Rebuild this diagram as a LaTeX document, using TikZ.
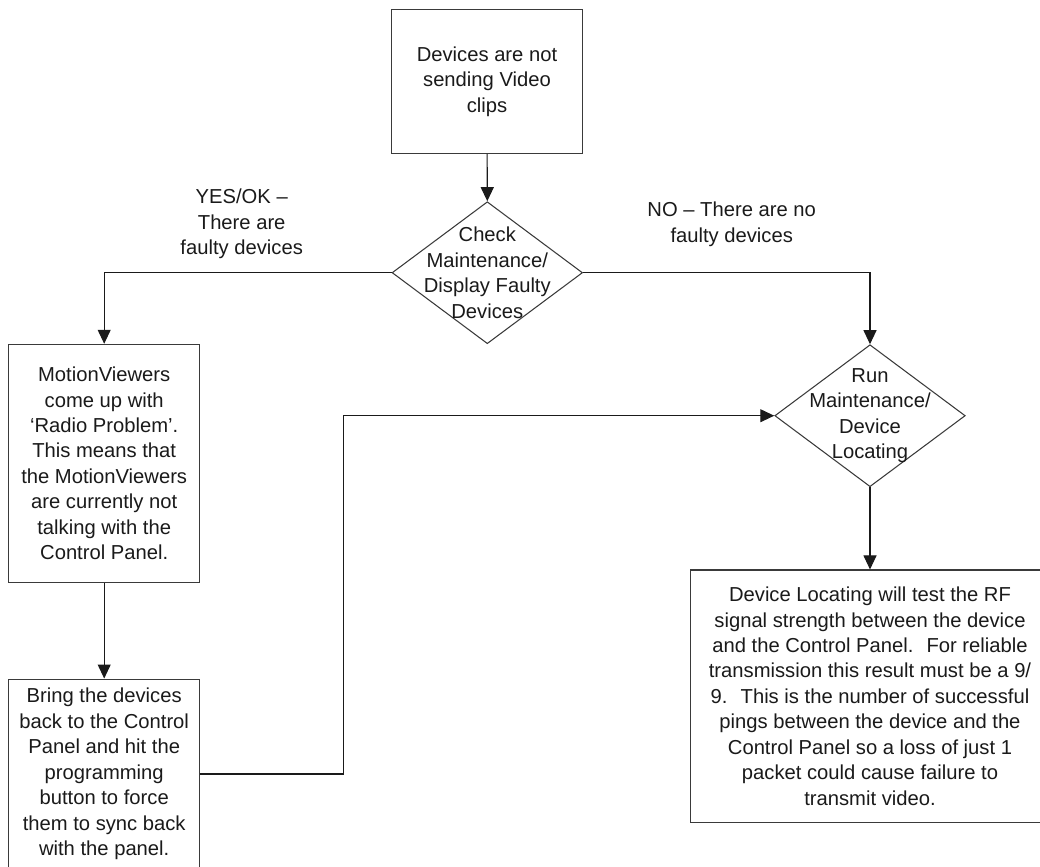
\documentclass[tikz,border=0pt]{standalone}
\usepackage{fontspec}
\setmainfont{Liberation Sans}
\usetikzlibrary{arrows.meta,shapes.geometric}
\definecolor{ink}{HTML}{1A1A1A}
\definecolor{frame}{HTML}{3A3A3A}
\tikzset{
  procbox/.style={rectangle,draw=frame,line width=0.6pt,fill=white,align=center,inner sep=0pt,text=ink,font=\fontsize{11.5pt}{14.5pt}\selectfont},
  decision/.style={diamond,draw=frame,line width=0.6pt,fill=white,inner sep=0pt,minimum width=3.81cm,minimum height=2.84cm},
  dtext/.style={align=center,text=ink,font=\fontsize{11.5pt}{14.5pt}\selectfont},
  branchnote/.style={align=center,text=ink,font=\fontsize{11.5pt}{14.5pt}\selectfont},
  arrow/.style={-{Triangle[length=0.28cm,width=0.26cm]},line width=0.6pt,ink}
}
\begin{document}
\begin{tikzpicture}[x=0.02cm,y=-0.02cm]
    \useasboundingbox (0,0) rectangle (1040,866);
    % boxes and decisions
    \node[procbox,minimum width=3.82cm,minimum height=2.87cm] (novideo) at (487,81.7) {Devices are not\\sending Video\\clips};
    \node[decision,label={[dtext]center:Check\\Maintenance/\\Display Faulty\\Devices}] (check) at (487.3,272.7) {};
    \node[procbox,minimum width=3.83cm,minimum height=4.77cm] (radio) at (104.2,463.5) {MotionViewers\\come up with\\‘Radio Problem’.\\This means that\\the MotionViewers\\are currently not\\talking with the\\Control Panel.};
    \node[procbox,minimum width=3.83cm,minimum height=3.8cm] (resync) at (104.2,774) {Bring the devices\\back to the Control\\Panel and hit the\\programming\\button to force\\them to sync back\\with the panel.};
    \node[decision,label={[dtext]center:Run\\Maintenance/\\Device\\Locating}] (locate) at (870,415.7) {};
    \node[procbox,minimum width=7.2cm,minimum height=5.05cm] (rftest) at (870,696.2) {Device Locating will test the RF\\signal strength between the device\\and the Control Panel. \ For reliable\\transmission this result must be a 9/\\9. \ This is the number of successful\\pings between the device and the\\Control Panel so a loss of just 1\\packet could cause failure to\\transmit video.};
    % branch labels
    \node[branchnote] (yesnote) at (241.7,224) {YES/OK --\\There are\\faulty devices};
    \node[branchnote] (nonote) at (731.7,224.5) {NO -- There are no\\faulty devices};
    \coordinate (jog) at (343.3,415.7);
    % connectors
    \draw[arrow] (novideo) -- (check.north);
    \draw[arrow] (check.west) -| (radio.north);
    \draw[arrow] (check.east) -| (locate.north);
    \draw[arrow] (radio) -- (resync.north);
    \draw[arrow] (resync.east) -| (jog) -- (locate.west);
    \draw[arrow] (locate.south) -- (rftest.north);
  \end{tikzpicture}
\end{document}
